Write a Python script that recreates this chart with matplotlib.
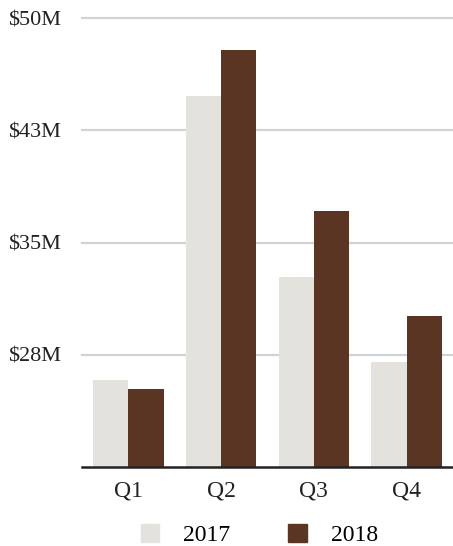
import matplotlib.pyplot as plt
import numpy as np
from matplotlib.patches import Patch

plt.rcParams['font.family'] = ['Liberation Serif', 'DejaVu Serif']

quarters = ['Q1', 'Q2', 'Q3', 'Q4']
sales_2017 = [25.8, 44.8, 32.7, 27.0]
sales_2018 = [25.2, 47.9, 37.1, 30.1]
yticks = [27.5, 35.0, 42.5, 50.0]
ytick_labels = ['$28M', '$35M', '$43M', '$50M']

col_2017 = '#e3e2dc'
col_2018 = '#5a3523'

fig = plt.figure(figsize=(4.53, 5.46), dpi=100)
ax = fig.add_axes([0.181, 0.1447, 0.819, 0.822])

x = np.arange(len(quarters))
w = 0.38
ax.bar(x - w / 2, sales_2017, width=w, color=col_2017, zorder=2)
ax.bar(x + w / 2, sales_2018, width=w, color=col_2018, zorder=2)

ax.set_xlim(-0.5, 3.5)
ax.set_ylim(20, 50)
ax.set_yticks(yticks)
ax.set_yticklabels(ytick_labels)
ax.set_xticks(x)
ax.set_xticklabels(quarters)
ax.yaxis.grid(True, color='#d0d3d6', linewidth=1.6, zorder=0)
ax.set_axisbelow(True)
for gl in ax.get_ygridlines():
    gl.set_clip_on(False)

for s in ['top', 'right', 'left']:
    ax.spines[s].set_visible(False)
ax.spines['bottom'].set_color('#222222')
ax.spines['bottom'].set_linewidth(1.8)
ax.spines['bottom'].set_zorder(3)

ax.tick_params(axis='y', length=0, pad=15, labelsize=16, colors='#222222')
ax.tick_params(axis='x', length=0, pad=10, labelsize=17, colors='#222222')

handles = [Patch(color=col_2017), Patch(color=col_2018)]
fig.legend(handles, ['2017', '2018'], loc='center', bbox_to_anchor=(0.572, 0.02),
           ncol=2, frameon=False, fontsize=17, handlelength=0.8, handleheight=0.8,
           columnspacing=2.45, handletextpad=1.0)

fig.savefig('out.png', dpi=100)
